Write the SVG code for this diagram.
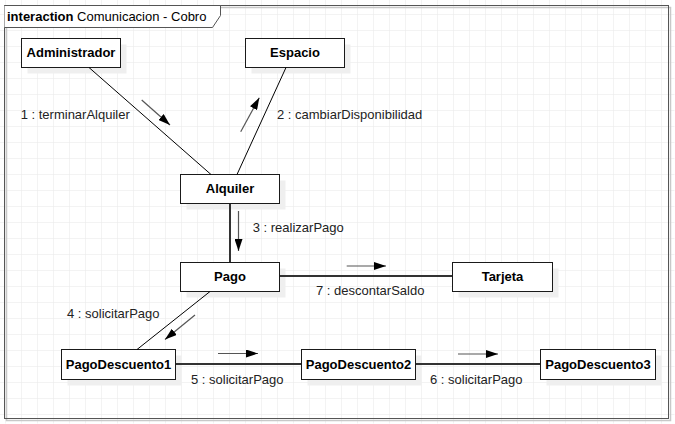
<svg xmlns="http://www.w3.org/2000/svg" width="675" height="424" viewBox="0 0 675 424">
<style>
.node rect.box{fill:#ffffff;stroke:#1a1a1a;stroke-width:1}
.node rect.sh{fill:#efefef;stroke:none}
.node text{font-family:"Liberation Sans",Arial,sans-serif;font-size:13px;font-weight:bold;fill:#000;text-anchor:middle}
.link{stroke:#000;stroke-width:1;fill:none}
.thick{stroke:#333;stroke-width:2;fill:none}
.msg{stroke:#555;stroke-width:1.2;fill:none;marker-end:url(#ah)}
.lbl{font-family:"Liberation Sans",Arial,sans-serif;font-size:13px;fill:#222}
</style>
<defs>
<pattern id="grid" x="5.5" y="14.5" width="16" height="16" patternUnits="userSpaceOnUse">
<path d="M0,0 H16 M0,0 V16" stroke="#e8e8e8" stroke-width="1" fill="none"/>
</pattern>
<marker id="ah" viewBox="0 0 12 8" refX="12" refY="4" markerWidth="12" markerHeight="8" markerUnits="userSpaceOnUse" orient="auto">
<path d="M0,0 L12,4 L0,8 Z" fill="#000"/>
</marker>
</defs>
<rect x="0" y="0" width="675" height="424" fill="#ffffff"/>
<rect x="0" y="0" width="675" height="424" fill="url(#grid)" transform="translate(-0.5,-0.5)"/>
<g id="frame">
<rect x="6.5" y="7.5" width="664" height="413" fill="none" stroke="#c8c8c8" stroke-width="1.5"/>
<rect x="4.5" y="5.5" width="664" height="413" fill="none" stroke="#555" stroke-width="1"/>
<path d="M4.5,5.5 H220.5 V15.5 L212.5,27.5 H4.5" fill="#fff" stroke="#555" stroke-width="1"/>
<text x="7" y="21" font-family="'Liberation Sans',Arial,sans-serif" font-size="13" fill="#000"><tspan font-weight="bold">interaction</tspan> Comunicacion - Cobro</text>
</g>
<g id="administrador" class="node"><rect class="sh" x="27.5" y="44.5" width="99" height="29"/><rect class="box" x="21.5" y="38.5" width="99" height="29"/><text x="71" y="57">Administrador</text></g>
<g id="espacio" class="node"><rect class="sh" x="251.5" y="44.5" width="99" height="29"/><rect class="box" x="245.5" y="38.5" width="99" height="29"/><text x="295" y="57">Espacio</text></g>
<g id="alquiler" class="node"><rect class="sh" x="186.5" y="180.5" width="99" height="29"/><rect class="box" x="180.5" y="174.5" width="99" height="29"/><text x="230" y="193">Alquiler</text></g>
<g id="pago" class="node"><rect class="sh" x="186.5" y="268.5" width="99" height="29"/><rect class="box" x="180.5" y="262.5" width="99" height="29"/><text x="230" y="281">Pago</text></g>
<g id="tarjeta" class="node"><rect class="sh" x="458.5" y="268.5" width="100" height="29"/><rect class="box" x="452.5" y="262.5" width="100" height="29"/><text x="502.5" y="281">Tarjeta</text></g>
<g id="pagodescuento1" class="node"><rect class="sh" x="67.5" y="355.5" width="114" height="30"/><rect class="box" x="61.5" y="349.5" width="114" height="30"/><text x="118.5" y="369">PagoDescuento1</text></g>
<g id="pagodescuento2" class="node"><rect class="sh" x="307.5" y="355.5" width="114" height="30"/><rect class="box" x="301.5" y="349.5" width="114" height="30"/><text x="358.5" y="369">PagoDescuento2</text></g>
<g id="pagodescuento3" class="node"><rect class="sh" x="546.5" y="355.5" width="115" height="30"/><rect class="box" x="540.5" y="349.5" width="115" height="30"/><text x="598" y="369">PagoDescuento3</text></g>
<g id="connectors">
<line class="link" x1="89" y1="67.5" x2="211" y2="174.5"/>
<line class="link" x1="286" y1="67.5" x2="237" y2="174.5"/>
<line class="thick" x1="230" y1="204" x2="230" y2="262"/>
<line class="thick" x1="280" y1="276" x2="452" y2="276"/>
<line class="link" x1="210" y1="291.5" x2="137" y2="349.5"/>
<line class="thick" x1="176" y1="364" x2="301" y2="364"/>
<line class="thick" x1="416" y1="364" x2="540" y2="364"/>
<line class="msg" x1="141.7" y1="100" x2="170" y2="125"/>
<line class="msg" x1="240.7" y1="131.7" x2="259.3" y2="97.7"/>
<line class="msg" x1="238.5" y1="211" x2="238.5" y2="251"/>
<line class="msg" x1="346.7" y1="266" x2="386" y2="266"/>
<line class="msg" x1="195" y1="315" x2="165" y2="339.5"/>
<line class="msg" x1="218" y1="353.5" x2="258" y2="353.5"/>
<line class="msg" x1="458" y1="354" x2="498" y2="354"/>
<text class="lbl" x="20.7" y="118.5">1 : terminarAlquiler</text>
<text class="lbl" x="277" y="118.5">2 : cambiarDisponibilidad</text>
<text class="lbl" x="252.7" y="232">3 : realizarPago</text>
<text class="lbl" x="67" y="318">4 : solicitarPago</text>
<text class="lbl" x="191" y="383.5">5 : solicitarPago</text>
<text class="lbl" x="430" y="383.5">6 : solicitarPago</text>
<text class="lbl" x="316" y="294.5">7 : descontarSaldo</text>
</g>
</svg>
